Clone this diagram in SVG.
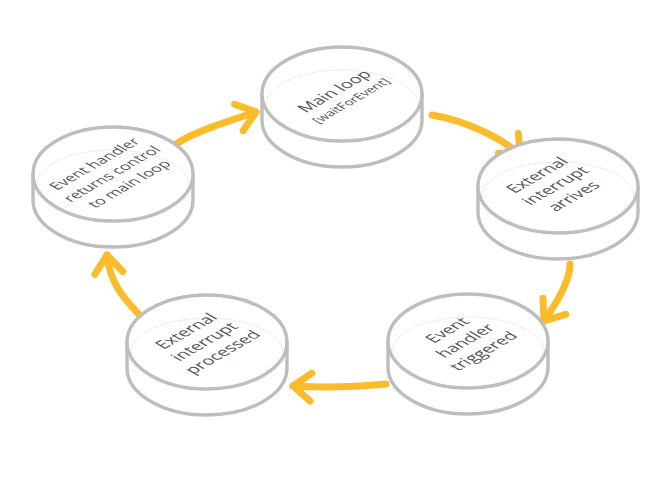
<svg xmlns="http://www.w3.org/2000/svg" width="672" height="478" viewBox="0 0 672 478">
  <style>
    .flow { fill: none; stroke: #fbbc2b; stroke-width: 7; stroke-linecap: round; stroke-linejoin: round; }
    .head { fill: none; stroke: #fbbc2b; stroke-width: 7; stroke-linecap: round; stroke-linejoin: round; }
    .body { fill: #ffffff; stroke: #bdbdbd; stroke-width: 3.4; }
    .rim { fill: none; stroke: #cfcfcf; stroke-width: 1; stroke-dasharray: 1 1.5; }
    .lbl { font-family: "Open Sans", "Liberation Sans", sans-serif; fill: #555555; text-anchor: middle; }
  </style>
  <defs>
    <marker id="chevron" markerUnits="userSpaceOnUse" viewBox="-30 -30 40 60" markerWidth="40" markerHeight="60" refX="0" refY="0" orient="auto" overflow="visible">
      <path class="head" d="M -18,-14 L 0,0 L -18,14"/>
    </marker>
  </defs>
  <rect width="672" height="478" fill="#ffffff"/>

  <!-- connectors (drawn beneath the disks) -->
  <g id="connectors">
    <path class="flow" d="M 176,144 C 194,132 228,121 256,112" marker-end="url(#chevron)"/>
    <path class="flow" d="M 432,115 C 468,121 505,140 521,156" marker-end="url(#chevron)"/>
    <path class="flow" d="M 570,264 C 570,282 556,304 544,321" marker-end="url(#chevron)"/>
    <path class="flow" d="M 386,384 C 355,387 325,388 293,386" marker-end="url(#chevron)"/>
    <path class="flow" d="M 146,322 C 125,300 110,285 107,255" marker-end="url(#chevron)"/>
  </g>

  <!-- Main loop -->
  <g id="main-loop">
    <path class="body" d="M 262,94 v 26 a 80 47 0 0 0 160 0 v -26"/>
    <ellipse class="body" cx="342" cy="94" rx="80" ry="47"/>
    <ellipse class="rim" cx="342" cy="105" rx="76" ry="35"/>
    <g transform="matrix(0.866,-0.5,0.866,0.5,341,95)">
      <text class="lbl" x="0" y="-2" font-size="16.5">Main loop</text>
      <text class="lbl" x="0" y="16" font-size="12.5">[waitForEvent]</text>
    </g>
  </g>

  <!-- External interrupt arrives -->
  <g id="interrupt-arrives">
    <path class="body" d="M 478,186 v 26 a 80 47 0 0 0 160 0 v -26"/>
    <ellipse class="body" cx="558" cy="186" rx="80" ry="47"/>
    <ellipse class="rim" cx="558" cy="197" rx="76" ry="35"/>
    <g transform="matrix(0.866,-0.5,0.866,0.5,556,186)">
      <text class="lbl" x="0" y="-16" font-size="16.5">External</text>
      <text class="lbl" x="0" y="5" font-size="16.5">interrupt</text>
      <text class="lbl" x="0" y="26" font-size="16.5">arrives</text>
    </g>
  </g>

  <!-- Event handler triggered -->
  <g id="handler-triggered">
    <path class="body" d="M 388,341 v 26 a 80 47 0 0 0 160 0 v -26"/>
    <ellipse class="body" cx="468" cy="341" rx="80" ry="47"/>
    <ellipse class="rim" cx="468" cy="352" rx="76" ry="35"/>
    <g transform="matrix(0.866,-0.5,0.866,0.5,466,341)">
      <text class="lbl" x="0" y="-16" font-size="16.5">Event</text>
      <text class="lbl" x="0" y="5" font-size="16.5">handler</text>
      <text class="lbl" x="0" y="26" font-size="16.5">triggered</text>
    </g>
  </g>

  <!-- External interrupt processed -->
  <g id="interrupt-processed">
    <path class="body" d="M 127,342 v 26 a 80 47 0 0 0 160 0 v -26"/>
    <ellipse class="body" cx="207" cy="342" rx="80" ry="47"/>
    <ellipse class="rim" cx="207" cy="353" rx="76" ry="35"/>
    <g transform="matrix(0.866,-0.5,0.866,0.5,205,342)">
      <text class="lbl" x="0" y="-16" font-size="16.5">External</text>
      <text class="lbl" x="0" y="5" font-size="16.5">interrupt</text>
      <text class="lbl" x="0" y="26" font-size="16.5">processed</text>
    </g>
  </g>

  <!-- Event handler returns control -->
  <g id="handler-returns">
    <path class="body" d="M 33,174 v 26 a 80 47 0 0 0 160 0 v -26"/>
    <ellipse class="body" cx="113" cy="174" rx="80" ry="47"/>
    <ellipse class="rim" cx="113" cy="185" rx="76" ry="35"/>
    <g transform="matrix(0.866,-0.5,0.866,0.5,112,174)">
      <text class="lbl" x="0" y="-15" font-size="15">Event handler</text>
      <text class="lbl" x="0" y="5" font-size="15">returns control</text>
      <text class="lbl" x="0" y="25" font-size="15">to main loop</text>
    </g>
  </g>
</svg>
